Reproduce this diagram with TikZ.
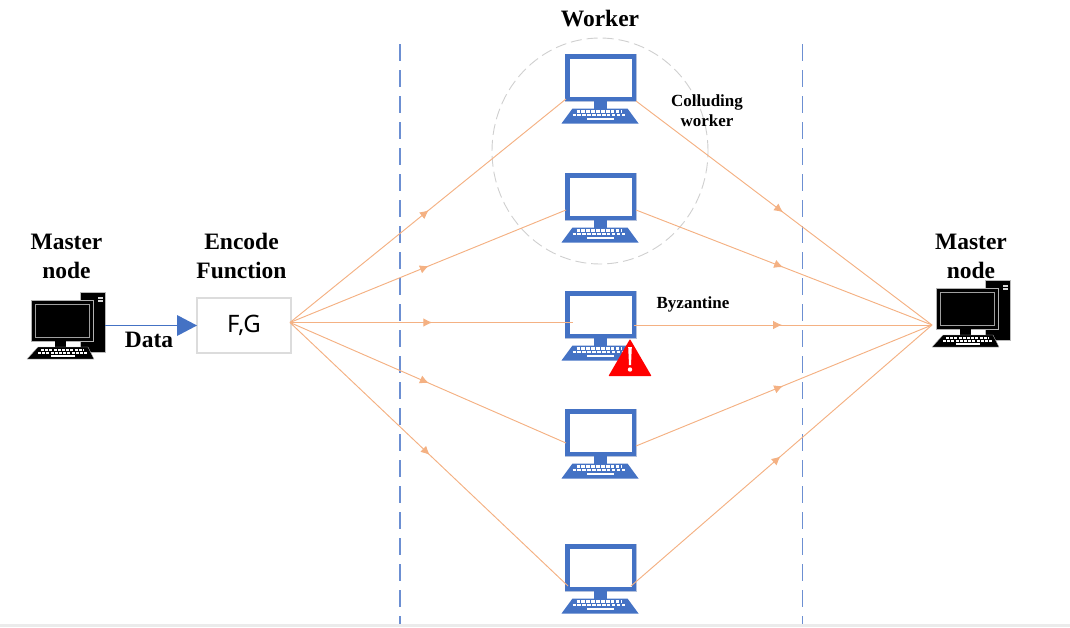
\documentclass[tikz,border=0pt]{standalone}
\usepackage{fontspec}
\setmainfont{Liberation Serif}
\newfontfamily\fgfont{Noto Sans}
\usetikzlibrary{arrows.meta,decorations.markings,shapes.geometric}
\definecolor{wblue}{HTML}{4472C4}
\definecolor{lorange}{HTML}{F4B183}
\definecolor{dashblue}{HTML}{6C8FD2}
\definecolor{circgray}{HTML}{CFCFCF}
\definecolor{boxgray}{HTML}{DCDCDC}
\definecolor{halo}{HTML}{B4C1DC}
\definecolor{bandgray}{HTML}{EBEBEB}
\tikzset{
  bigtext/.style={font=\fontsize{23.5}{29}\selectfont\bfseries,align=center,text=black,inner sep=0pt},
  smalltext/.style={font=\fontsize{17}{20}\selectfont\bfseries,align=center,text=black,inner sep=0pt},
  monitorbox/.style={draw=wblue,line width=4.5pt,fill=white,minimum width=66.5pt,minimum height=42.5pt,inner sep=0pt},
  midin/.style={postaction={decorate},decoration={markings,mark=at position .503 with {\arrow{Latex[length=9pt,width=8.5pt]}}}},
  midout/.style={postaction={decorate},decoration={markings,mark=at position .497 with {\arrow{Latex[length=9pt,width=8.5pt]}}}},
  wire/.style={draw=lorange,line width=.95pt},
  sepline/.style={draw=dashblue,line width=1.1pt,dash pattern=on 17pt off 9pt},
  workerbase/.pic={
    \fill[wblue] (-7,23.5) rectangle (6,31);
    \fill[wblue] (-28,31) -- (27,31) -- (38,46) -- (-39,46) -- cycle;
    \foreach \yy/\xa/\xb in {34/-24/21,37.5/-28/25}{
      \draw[white,line width=2.3pt,dash pattern=on 3.6pt off 1.3pt] (\xa,\yy) -- (\xb,\yy);}
    \fill[white] (-14,40.2) rectangle (13,42.4);
  },
  blackpc/.pic={
    \fill[black] (49,-8) rectangle (74,52);
    \draw[gray!55,line width=.7pt] (49,-8) rectangle (74,52);
    \fill[white!85!black] (67,-3.5) rectangle (72,-1.3);
    \fill[white!85!black] (67,0.2) rectangle (72,2.4);
    \fill[black,draw=gray!60,line width=1pt] (0,0) rectangle (62,41);
    \draw[gray!75,line width=.8pt] (4,4) rectangle (58,37);
    \fill[black] (24,41) rectangle (35,47);
    \fill[black,draw=gray!50,line width=.4pt] (7,47) -- (57,47) -- (63,59) -- (-4,59) -- cycle;
    \foreach \yy/\xa/\xb in {50/10/53,53/7/56}{
      \draw[white,line width=2pt,dash pattern=on 3pt off 1.2pt] (\xa,\yy) -- (\xb,\yy);}
    \fill[white] (20,55.3) rectangle (44,57.2);
  },
}
\begin{document}
\begin{tikzpicture}[x=1pt,y=-1pt]
\useasboundingbox (0,0) rectangle (1070,627);
\fill[bandgray] (0,624) rectangle (1070,627);
% separators
\coordinate (s1t) at (400,44); \coordinate (s1b) at (400,624);
\coordinate (s2t) at (802.5,44); \coordinate (s2b) at (802.5,624);
\draw[sepline] (s1t) -- (s1b);
\draw[sepline] (s2t) -- (s2b);
% colluding ring
\node[draw=circgray,dash pattern=on 11pt off 5pt,line width=.9pt,ellipse,minimum width=216pt,minimum height=226pt,inner sep=0pt] (coll) at (600,151) {};
% workers
\foreach \nm/\cy in {w1/77.5,w2/196.5,w3/314.5,w4/432.5,w5/567.5}{
  \fill[halo] (600.5-36,\cy-24) rectangle (600.5+36,\cy+24);
  \node[monitorbox] (\nm) at (600.5,\cy) {};
  \pic at (600.5,\cy) {workerbase};
}
% masters
\pic at (31,300) {blackpc};
\pic at (936,288) {blackpc};
\coordinate (mleft) at (105,325);
\coordinate (mright) at (932,325);
% encoder
\node[draw=boxgray,line width=1.2pt,fill=white,minimum width=94pt,minimum height=55pt,inner sep=0pt,font=\fontsize{24}{28}\selectfont\fgfont] (enc) at (244,325.5) {F,G};
% data arrow
\coordinate (edata) at (197,325.5);
\draw[draw=wblue,line width=1pt] (mleft) -- (178,325);
\fill[wblue] (177,315) -- (edata) -- (177,336) -- cycle;
% wires
\coordinate (src) at (290,322.5);
\coordinate (i1) at (566,99);  \coordinate (o1) at (636,101);
\coordinate (i2) at (566,210); \coordinate (o2) at (636,210);
\coordinate (i3) at (573,322.5); \coordinate (o3) at (634,325);
\coordinate (i4) at (566,443); \coordinate (o4) at (636,446);
\coordinate (i5) at (568,586); \coordinate (o5) at (631,586);
\foreach \k in {1,...,5}{
  \draw[wire,midin] (src) -- (i\k);
  \draw[wire,midout] (o\k) -- (mright);
}
% alarm
\fill[red,rounded corners=.6pt] (630,339) -- (651.5,376) -- (608.5,376) -- cycle;
\fill[white] (628.2,347) -- (631.8,347) -- (631,365) -- (629,365) -- cycle;
\fill[white] (630,369.5) circle (2.2pt);
% labels
\node[bigtext] (lw) at (600,19) {Worker};
\node[bigtext] (lm1) at (66.5,256) {Master\\node};
\node[bigtext] (lm2) at (971,256) {Master\\node};
\node[bigtext] (lef) at (241.5,256) {Encode\\Function};
\node[bigtext] (ld) at (149,340) {Data};
\node[smalltext] (lc) at (707,110.5) {Colluding\\worker};
\node[smalltext] (lb) at (693,304) {Byzantine};
\end{tikzpicture}
\end{document}
